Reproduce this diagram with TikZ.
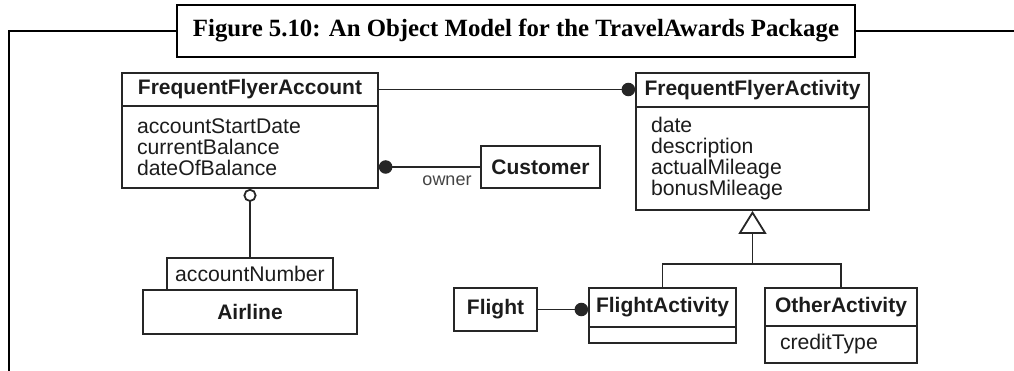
\documentclass[tikz,border=0pt]{standalone}
\usepackage{fontspec}
\setmainfont{Liberation Sans}
\newfontfamily\titlefont{Liberation Serif}
\usetikzlibrary{arrows.meta}
\definecolor{linec}{HTML}{262626}
\definecolor{textc}{HTML}{1C1C1C}
\definecolor{rolec}{HTML}{444444}
\tikzset{
  umlline/.style={draw=linec, line width=1.8pt},
  clsname/.style={umlline, font=\bfseries\fontsize{21}{21}\selectfont, text=textc, inner sep=0pt},
  attrs/.style={umlline, font=\fontsize{21.2}{21}\selectfont, text=textc, align=left, inner xsep=15pt, inner ysep=0pt},
  rolelabel/.style={font=\fontsize{18}{18}\selectfont, text=rolec, inner sep=0pt},
  framestroke/.style={draw=black, line width=2.6pt},
  titlebox/.style={framestroke, fill=white, inner sep=0pt, font=\titlefont\bfseries\fontsize{24.8}{25}\selectfont},
  dot/.style={-{Circle[length=13.5pt]}},
  rootdot/.style={{Circle[length=13.5pt]}-},
  opendot/.style={{Circle[open, fill=white, length=13pt]}-},
  inherit/.style={-{Triangle[open, fill=white, length=23pt, width=28pt]}},
}
\begin{document}
\begin{tikzpicture}[x=1pt, y=-1pt]
\useasboundingbox (0,0) rectangle (1014,371);

% page frame with the figure caption
\node[titlebox, minimum width=678pt, minimum height=52pt] (title) at (516,31)
  {Figure 5.10: An Object Model for the TravelAwards Package};
\coordinate (frameBL) at (9,375);
\coordinate (frameR) at (1016,31);
\draw[framestroke, line join=miter] (frameBL) |- (title.west);
\draw[framestroke] (title.east) -- (frameR);

% FrequentFlyerAccount
\node[clsname, minimum width=256pt, minimum height=33pt] (ffa) at (250,89.5) {FrequentFlyerAccount};
\node[attrs, text width=226pt, minimum height=82pt] (ffab) at (250,147)
  {accountStartDate\\currentBalance\\dateOfBalance};

% FrequentFlyerActivity
\node[clsname, minimum width=233pt, minimum height=34pt] (ffact) at (752.5,90) {FrequentFlyerActivity};
\node[attrs, text width=203pt, minimum height=103pt] (ffactb) at (752.5,158.5)
  {date\\description\\actualMileage\\bonusMileage};

% Customer
\node[clsname, minimum width=119pt, minimum height=42pt] (cust) at (540.5,167) {Customer};

% Airline with its qualifier
\node[attrs, inner xsep=0pt, minimum width=166pt, minimum height=32pt] (qual) at (250,274) {accountNumber};
\node[clsname, minimum width=214pt, minimum height=44pt] (airline) at (250,312) {Airline};

% Flight
\node[clsname, minimum width=83pt, minimum height=43pt] (flight) at (495.5,309.5) {Flight};

% FlightActivity
\node[clsname, minimum width=147pt, minimum height=39pt] (flact) at (662.5,307.5) {FlightActivity};
\node[umlline, minimum width=147pt, minimum height=16pt, inner sep=0pt] (flactb) at (662.5,335) {};

% OtherActivity
\node[clsname, minimum width=152pt, minimum height=38pt] (oact) at (841,307) {OtherActivity};
\node[attrs, text width=122pt, minimum height=37pt] (oactb) at (841,344.5) {creditType};

% associations
\draw[umlline, dot] (ffa.east) -- (ffa.east -| ffact.west);
\draw[umlline, rootdot] (cust.west -| ffab.east) -- (cust.west);
\node[rolelabel] (owner) at (447,181) {owner};
\draw[umlline, opendot] (ffab.south) -- (qual.north);
\draw[umlline, dot] (flight.east) -- (flight.east -| flact.west);

% generalization
\coordinate (gen) at (752.5,264);
\draw[umlline] (flact.north) |- (gen) -| (oact.north);
\draw[umlline, inherit] (gen) -- (ffactb.south);
\end{tikzpicture}
\end{document}
